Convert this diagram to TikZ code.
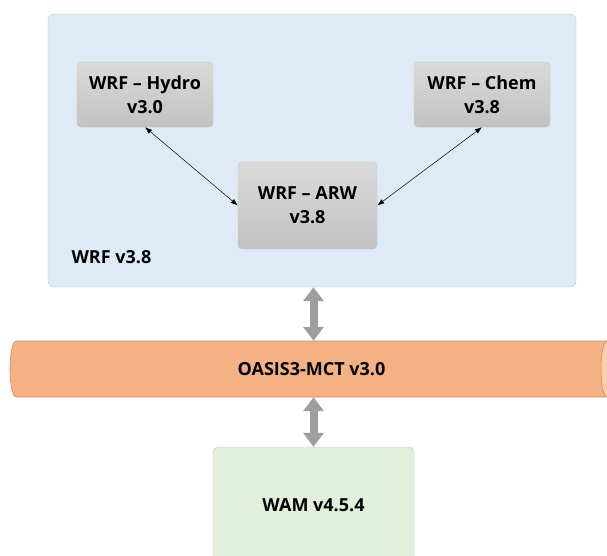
\documentclass[tikz,border=0pt]{standalone}
\usepackage{fontspec}
\setmainfont{Open Sans}
\usetikzlibrary{arrows.meta}
\definecolor{wrffill}{RGB}{222,234,246}
\definecolor{wrfline}{RGB}{176,196,220}
\definecolor{boxtop}{RGB}{218,218,218}
\definecolor{boxbot}{RGB}{194,194,194}
\definecolor{boxline}{RGB}{200,200,200}
\definecolor{oasisbody}{RGB}{244,177,131}
\definecolor{oasisend}{RGB}{249,205,175}
\definecolor{oasisline}{RGB}{212,140,92}
\definecolor{wamfill}{RGB}{226,239,218}
\definecolor{wamline}{RGB}{184,204,172}
\definecolor{linkgray}{RGB}{158,158,158}

\begin{document}
\begin{tikzpicture}[x=1pt,y=-1pt,
    every node/.style={font=\fontsize{18}{24}\selectfont\bfseries},
    modelbox/.style={draw=boxline,rounded corners=4pt,top color=boxtop,bottom color=boxbot,
        minimum width=136pt,minimum height=65pt,align=center,inner sep=0pt},
    link/.style={{Latex[length=7pt,width=5pt]}-{Latex[length=7pt,width=5pt]},line width=0.5pt},
    coupler/.style={{Triangle[width=20pt,length=14pt]}-{Triangle[width=20pt,length=14pt]},
        line width=8pt,draw=linkgray}]
    \useasboundingbox (0,0) rectangle (607,555);
    % WRF frame and its components
    \node[draw=wrfline,fill=wrffill,rounded corners=6pt,minimum width=528pt,minimum height=273pt] (wrf) at (312,150.5) {};
    \node[anchor=west] (wrflabel) at (68,257) {WRF v3.8};
    \node[modelbox] (hydro) at (145,94.5) {WRF – Hydro\\v3.0};
    \node[modelbox] (chem) at (482,94.5) {WRF – Chem\\v3.8};
    \node[modelbox,minimum width=139pt,minimum height=87pt] (arw) at (307.5,205.5) {WRF – ARW\\v3.8};
    \draw[link] (hydro.south) -- (arw.west);
    \draw[link] (chem.south) -- (arw.east);
    % coupler pipe
    \filldraw[fill=oasisbody,draw=oasisline,line width=0.6pt] (16,341) -- (607,341)
        arc[start angle=270,end angle=450,x radius=6,y radius=28] -- (16,397)
        arc[start angle=90,end angle=270,x radius=6,y radius=28] -- cycle;
    \filldraw[fill=oasisend,draw=oasisline,line width=0.6pt] (607,369) ellipse[x radius=6,y radius=28];
    \node[minimum width=591pt,minimum height=56pt] (oasis) at (311.5,369) {OASIS3-MCT v3.0};
    % wave model
    \node[draw=wamline,fill=wamfill,rounded corners=5pt,minimum width=201pt,minimum height=116pt] (wam) at (313.5,505) {WAM v4.5.4};
    \draw[coupler] (wam.north |- wrf.south) -- (wam.north |- oasis.north);
    \draw[coupler] (wam.north |- oasis.south) -- (wam.north);
\end{tikzpicture}
\end{document}
